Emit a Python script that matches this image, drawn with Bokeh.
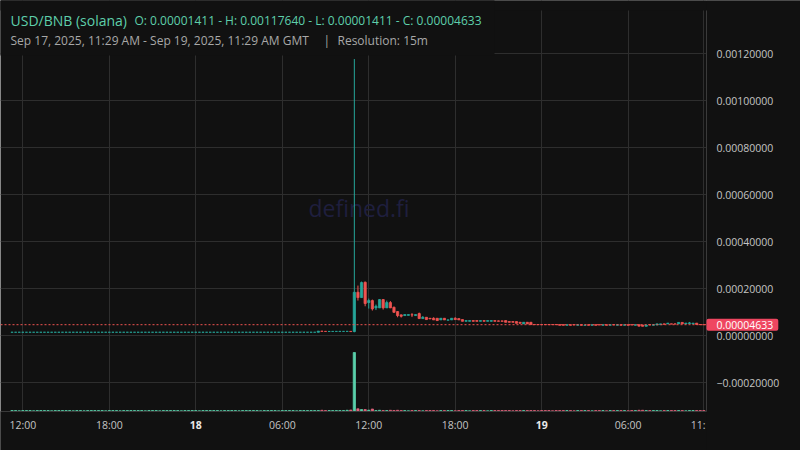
import numpy as np
import pandas as pd
from bokeh.plotting import figure
from bokeh.models import (Range1d, FixedTicker, Span, Label, BoxAnnotation, Grid, Arrow,
                          ColumnDataSource)
from bokeh.embed import file_html
from bokeh.resources import INLINE

# ---------------- data (15-minute bars, GMT) ----------------
first_bar = "2025-09-17 11:15"
bar_freq = "15min"

# prices in units of 1e-8 BNB
open_e8 = [
    1411, 1411, 1411, 1411, 1411, 1411, 1411, 1411, 1411, 1411, 1411, 1411, 1411, 1411, 1411, 1411, 1411,
    1411, 1411, 1411, 1411, 1411, 1411, 1411, 1411, 1411, 1411, 1411, 1411, 1411, 1411, 1411, 1411, 1411,
    1411, 1411, 1411, 1411, 1411, 1411, 1411, 1411, 1411, 1411, 1411, 1411, 1411, 1411, 1411, 1411, 1411,
    1411, 1411, 1411, 1411, 1411, 1411, 1411, 1411, 1411, 1411, 1411, 1411, 1411, 1411, 1411, 1411, 1411,
    1411, 1411, 1411, 1411, 1411, 1411, 1411, 1411, 1411, 1411, 1411, 1411, 1411, 1411, 1411, 1411, 1411,
    1411, 1900, 1800, 1750, 1760, 1770, 1770, 1780, 1780, 1790,
    1700,
    18430, 16170, 22680, 14040, 14890, 11790, 11790, 15320, 11790, 14040,
    12040, 10210, 8810, 8510, 8600, 8850, 8510, 9360, 7230, 7790,
    7360, 7360, 7360, 6680, 7360, 6550, 6680, 7360, 7230, 6810,
    6080, 6080, 6380, 6380, 6080, 6380, 6080, 6080, 6380, 6250,
    6250, 6380, 5960, 5960, 5960, 5660, 4980, 5660, 5660,
    4720, 4700, 4690, 4710, 4700, 4690, 4700,
    4680, 4680,
    4380, 4630, 4630, 4380, 4630, 4380, 4630, 4380, 4630, 4630,
    4380, 4630, 4380, 4630, 4380, 4630, 4380, 4630, 4630, 4380,
    4630, 4500, 3960, 4630, 4380, 4500, 4630, 4980, 4980, 4980,
    4980, 5000, 5600, 4980, 5100, 4980, 5300, 4700, 4650,
]
high_e8 = [
    1411, 1411, 1411, 1411, 1411, 1411, 1411, 1411, 1411, 1411, 1411, 1411, 1411, 1411, 1411, 1411, 1411,
    1411, 1411, 1411, 1411, 1411, 1411, 1411, 1411, 1411, 1411, 1411, 1411, 1411, 1411, 1411, 1411, 1411,
    1411, 1411, 1411, 1411, 1411, 1411, 1411, 1411, 1411, 1411, 1411, 1411, 1411, 1411, 1411, 1411, 1411,
    1411, 1411, 1411, 1411, 1411, 1411, 1411, 1411, 1411, 1411, 1411, 1411, 1411, 1411, 1411, 1411, 1411,
    1411, 1411, 1411, 1411, 1411, 1411, 1411, 1411, 1411, 1411, 1411, 1411, 1411, 1411, 1411, 1411, 1411,
    1900, 1900, 1800, 1760, 1770, 1770, 1780, 1780, 1790, 1790,
    117640,
    21280, 22980, 23000, 15740, 15320, 13190, 15530, 15530, 14890, 14680,
    12340, 10420, 8940, 8940, 8940, 9570, 8940, 9790, 8300, 7790,
    7360, 7790, 7360, 7360, 7360, 6680, 7360, 7790, 7230, 6810,
    6380, 6380, 6380, 6380, 6380, 6380, 6380, 6380, 6380, 6380,
    6250, 6380, 5960, 5960, 5960, 5660, 5660, 5660, 5660,
    4720, 4700, 4690, 4710, 4700, 4690, 4700,
    4680, 4680,
    4630, 4630, 4630, 4630, 4630, 4500, 4630, 4630, 4630, 4630,
    4630, 4630, 4630, 4630, 4630, 4630, 4630, 4630, 4630, 4630,
    4630, 4500, 4630, 4630, 4630, 4980, 4980, 4980, 5300, 4980,
    4980, 5600, 5600, 5300, 5800, 5300, 5300, 4700, 4650,
]
low_e8 = [
    1411, 1411, 1411, 1411, 1411, 1411, 1411, 1411, 1411, 1411, 1411, 1411, 1411, 1411, 1411, 1411, 1411,
    1411, 1411, 1411, 1411, 1411, 1411, 1411, 1411, 1411, 1411, 1411, 1411, 1411, 1411, 1411, 1411, 1411,
    1411, 1411, 1411, 1411, 1411, 1411, 1411, 1411, 1411, 1411, 1411, 1411, 1411, 1411, 1411, 1411, 1411,
    1411, 1411, 1411, 1411, 1411, 1411, 1411, 1411, 1411, 1411, 1411, 1411, 1411, 1411, 1411, 1411, 1411,
    1411, 1411, 1411, 1411, 1411, 1411, 1411, 1411, 1411, 1411, 1411, 1411, 1411, 1411, 1411, 1411, 1411,
    1411, 1800, 1750, 1750, 1760, 1770, 1770, 1780, 1780, 1700,
    1411,
    14890, 16170, 12470, 11490, 10640, 10850, 11790, 11060, 11790, 11700,
    9660, 7790, 7660, 8510, 8600, 7870, 8510, 7230, 7230, 6810,
    7110, 6680, 6380, 6680, 6680, 6510, 6680, 6810, 6680, 6080,
    6080, 6080, 6080, 6080, 6080, 6080, 6080, 6080, 6080, 6080,
    6080, 5660, 5660, 5660, 5230, 5230, 4980, 4980, 4680,
    4640, 4640, 4633, 4640, 4633, 4640, 4633,
    4380, 4380,
    4380, 4380, 4500, 4380, 4380, 4380, 4380, 4380, 4380, 4500,
    4380, 4380, 4380, 4500, 4380, 4380, 4380, 4380, 4500, 4380,
    4000, 3960, 3960, 4500, 4380, 4500, 4630, 4800, 4980, 4900,
    4900, 5000, 4980, 4980, 5100, 4980, 4700, 4640, 4633,
]
close_e8 = [
    1411, 1411, 1411, 1411, 1411, 1411, 1411, 1411, 1411, 1411, 1411, 1411, 1411, 1411, 1411, 1411, 1411,
    1411, 1411, 1411, 1411, 1411, 1411, 1411, 1411, 1411, 1411, 1411, 1411, 1411, 1411, 1411, 1411, 1411,
    1411, 1411, 1411, 1411, 1411, 1411, 1411, 1411, 1411, 1411, 1411, 1411, 1411, 1411, 1411, 1411, 1411,
    1411, 1411, 1411, 1411, 1411, 1411, 1411, 1411, 1411, 1411, 1411, 1411, 1411, 1411, 1411, 1411, 1411,
    1411, 1411, 1411, 1411, 1411, 1411, 1411, 1411, 1411, 1411, 1411, 1411, 1411, 1411, 1411, 1411, 1411,
    1900, 1800, 1750, 1760, 1770, 1770, 1780, 1780, 1790, 1700,
    18430,
    16170, 22550, 13620, 14890, 11360, 12470, 15320, 11790, 14040, 11790,
    9910, 8510, 8210, 8940, 8940, 8770, 8940, 7230, 7790, 6810,
    7110, 6680, 6380, 7360, 6680, 6680, 7360, 6810, 6680, 6080,
    6380, 6380, 6080, 6080, 6380, 6080, 6380, 6380, 6080, 6080,
    6080, 5660, 5660, 5660, 5230, 5230, 5660, 4980, 4680,
    4640, 4640, 4633, 4640, 4633, 4640, 4633,
    4380, 4380,
    4630, 4380, 4500, 4630, 4380, 4500, 4380, 4630, 4380, 4500,
    4630, 4380, 4630, 4500, 4630, 4380, 4630, 4380, 4500, 4630,
    4000, 3960, 4500, 4500, 4630, 4980, 4980, 4800, 5300, 4900,
    4900, 5600, 4980, 5300, 5400, 5300, 4700, 4640, 4633,
]
volume = [
    2, 2, 1.5, 2, 2, 2, 1.5, 2, 2, 2, 2, 1.5, 2, 2, 2, 2, 2, 1.5, 2,
    2, 1.5, 2, 2, 2, 2, 2, 1.5, 2, 2, 2, 1.5, 2, 2, 2, 2, 2, 2, 1.5,
    2, 2, 2, 1.5, 2, 2, 2, 2, 2, 1.5, 2, 2, 2, 2, 1.5, 2, 2, 2, 2,
    2, 1.5, 2, 2, 2, 2, 1.5, 2, 2, 2, 2, 2, 1.5, 2, 2, 2, 2, 1.5, 2,
    2, 2, 2, 1.5, 2, 2, 2, 2, 2, 2, 2.5, 2, 2, 2, 2, 2, 2, 2.5, 3,
    120,
    5.5, 4, 4, 2.7, 5, 2, 2.5, 2, 2, 2.5,
    2, 2.5, 2, 2, 1.5, 2, 2, 2, 1.5, 2,
    2, 2, 1.5, 2, 2, 2, 2, 1.5, 2, 2,
    2, 1.5, 2, 2, 2, 2, 1.5, 2, 2, 2,
    2, 2, 2, 1.5, 2, 2, 2, 2, 2,
    2, 1.5, 2, 2, 2, 1.5, 2,
    2, 2,
    2, 2, 1.5, 2, 2, 2, 2, 1.5, 2, 2,
    2, 1.5, 2, 2, 2, 2, 2, 1.5, 2, 2,
    2.5, 2.5, 2, 2, 2, 2, 1.5, 2, 2, 2,
    2, 2, 2, 1.5, 2, 2, 2, 2, 2,
]

x_tick_times = ["2025-09-17 12:00", "2025-09-17 18:00", "2025-09-18 00:00",
                "2025-09-18 06:00", "2025-09-18 12:00", "2025-09-18 18:00",
                "2025-09-19 00:00", "2025-09-19 06:00", "2025-09-19 11:15"]
x_tick_labels = ["12:00", "18:00", "18", "06:00", "12:00", "18:00", "19", "06:00", "11:"]
x_tick_bold = [False, False, True, False, False, False, True, False, False]
y_ticks = [-0.0002, 0.0, 0.0002, 0.0004, 0.0006, 0.0008, 0.0010, 0.0012]

view_start = "2025-09-17 10:27"
view_end = "2025-09-19 11:26"
price_low, price_high = -0.000323, 0.001383   # visible price pane (bottom, top)

title_text = "USD/BNB (solana)"
ohlc_text = "O: 0.00001411 - H: 0.00117640 - L: 0.00001411 - C: 0.00004633"
range_text = "Sep 17, 2025, 11:29 AM - Sep 19, 2025, 11:29 AM GMT"
res_text = "Resolution: 15m"
watermark = "defined.fi"

# ---------------- styling / layout ----------------
BG = "#111111"
GRID = "#2e2e2e"
AXIS = "#3a3a3a"
UP = "#26a69a"
DOWN = "#ef5350"
VOL_UP = "#5ad1ab"
VOL_DOWN = "#e0647c"
TICK_TXT = "#c4c4c4"
FONT = "Open Sans"
W, H = 800, 450
PANE_R, PANE_T, PANE_B = 706, 10, 411      # price pane edges in canvas pixels
VOL_PX = 59                                 # pixel height of the largest volume bar


def ms(s):
    return pd.Timestamp(s).value / 1e6


n = len(close_e8)
times = pd.date_range(first_bar, periods=n, freq=bar_freq)
t_ms = np.array([ts.value / 1e6 for ts in times])
o = np.array(open_e8[:n]) * 1e-8
h = np.array(high_e8[:n]) * 1e-8
lo = np.array(low_e8[:n]) * 1e-8
c = np.array(close_e8[:n]) * 1e-8
vol = np.array(volume[:n], dtype=float)
up = c >= o

src = ColumnDataSource(dict(
    t=t_ms, top=np.maximum(o, c), bottom=np.minimum(o, c), high=h, low=lo,
    color=np.where(up, UP, DOWN), vol=vol, vcolor=np.where(up, VOL_UP, VOL_DOWN),
))

xs, xe = ms(view_start), ms(view_end)


def px_x(px):
    return xs + px / PANE_R * (xe - xs)


def px_y(py):
    return price_high - (py - PANE_T) / (PANE_B - PANE_T) * (price_high - price_low)


vmax = vol.max()
vol_per_px = vmax / VOL_PX

p = figure(width=W, height=H, output_backend="svg", toolbar_location=None,
           x_range=Range1d(px_x(0), px_x(W)), y_range=Range1d(px_y(H), px_y(0)),
           x_axis_location=None, y_axis_location=None, min_border=0)
p.background_fill_color = BG
p.border_fill_color = BG
p.outline_line_color = None
p.extra_y_ranges = {"vol": Range1d(-(H - PANE_B) * vol_per_px, PANE_B * vol_per_px)}

# hide default grids, add grids on the chart's own tick positions
for r in list(p.center):
    if isinstance(r, Grid):
        r.visible = False
tick_ms = [ms(s) for s in x_tick_times]
p.add_layout(Grid(dimension=0, ticker=FixedTicker(ticks=tick_ms), grid_line_color=GRID))
p.add_layout(Grid(dimension=1, ticker=FixedTicker(ticks=y_ticks), grid_line_color=GRID))

# watermark
p.add_layout(Label(x=px_x(358.5), y=px_y(207), text=watermark, text_align="center",
                   text_baseline="middle", text_font=FONT, text_font_size="23px",
                   text_color="#1f1f3e", level="underlay"))

# volume
bar_ms = 15 * 60 * 1000
p.vbar(x="t", width=bar_ms * 0.62, top="vol", bottom=0, fill_color="vcolor",
       line_color="vcolor", line_width=0.8, y_range_name="vol", source=src)
# candles
p.segment(x0="t", y0="low", x1="t", y1="high", line_color="color", line_width=1, source=src)
p.vbar(x="t", width=bar_ms * 0.62, top="top", bottom="bottom", fill_color="color",
       line_color="color", line_width=0.8, source=src)

# last price line
last = c[-1]
p.add_layout(Span(location=last, dimension="width", line_color=DOWN, line_dash="2 2", line_width=1))

# masks: price-scale column, time-scale row, top strip, legend/header area
BIG_X = (xe - xs)
BIG_Y = (price_high - price_low)


def mask(left, right, bottom, top):
    p.add_layout(BoxAnnotation(left=left, right=right, bottom=bottom, top=top,
                               fill_color=BG, fill_alpha=1.0, line_alpha=0))


mask(xe, xe + BIG_X, price_low - BIG_Y, price_high + BIG_Y)
mask(xs - BIG_X, xe, price_low - BIG_Y, px_y(PANE_B))
mask(xs - BIG_X, xe, px_y(PANE_T), price_high + BIG_Y)
mask(xs - BIG_X, px_x(494), px_y(55), price_high + BIG_Y)

# scale border lines
p.add_layout(Arrow(x_start=xe, y_start=px_y(PANE_B), x_end=xe, y_end=px_y(PANE_T),
                   start=None, end=None, line_color=AXIS, line_width=1))
p.add_layout(Arrow(x_start=px_x(0), y_start=px_y(PANE_B), x_end=xe, y_end=px_y(PANE_B),
                   start=None, end=None, line_color=AXIS, line_width=1))

# price scale labels
for v in y_ticks:
    txt = ("\u2212" if v < 0 else "") + f"{abs(v):.8f}"
    p.add_layout(Label(x=xe, y=v, x_offset=10, text=txt, text_align="left",
                       text_baseline="middle", text_font=FONT, text_font_size="10.5px",
                       text_color=TICK_TXT))

# time scale labels
TIME_BASE = 424
for tm, lab, b in zip(tick_ms, x_tick_labels, x_tick_bold):
    if lab == "11:":
        p.add_layout(Label(x=px_x(705), y=px_y(TIME_BASE), text=lab, text_align="right",
                           text_baseline="alphabetic", text_font=FONT, text_font_size="10.5px",
                           text_color=TICK_TXT))
    else:
        p.add_layout(Label(x=tm, y=px_y(TIME_BASE), text=lab, text_align="center",
                           text_baseline="alphabetic", text_font=FONT, text_font_size="10.5px",
                           text_font_style="bold" if b else "normal",
                           text_color="#e8e8e8" if b else TICK_TXT))

# last price tag
p.add_layout(Label(x=xe, y=last, x_offset=0, text=f"{last:.8f}", text_align="left",
                   text_baseline="middle", text_font=FONT, text_font_size="10.5px",
                   text_color="#ffffff", background_fill_color="#ef4660",
                   padding=dict(left=10, right=5, top=2, bottom=2), border_radius=2))

# header texts
p.add_layout(Label(x=px_x(10), y=px_y(20), text=title_text, text_font=FONT, text_font_size="14px",
                   text_color="#5ecfab", text_baseline="alphabetic"))
p.add_layout(Label(x=px_x(134), y=px_y(20), text=ohlc_text, text_font=FONT, text_font_size="12px",
                   text_color="#5ecfab", text_baseline="alphabetic"))
p.add_layout(Label(x=px_x(10), y=px_y(40), text=range_text, text_font=FONT, text_font_size="12px",
                   text_color="#a8a8a8", text_baseline="alphabetic"))
p.add_layout(Label(x=px_x(323), y=px_y(40), text="|", text_font=FONT, text_font_size="12px",
                   text_color="#a8a8a8", text_baseline="alphabetic"))
p.add_layout(Label(x=px_x(337), y=px_y(40), text=res_text, text_font=FONT, text_font_size="12px",
                   text_color="#a8a8a8", text_baseline="alphabetic"))

open("out.html", "w").write(file_html(p, INLINE))
